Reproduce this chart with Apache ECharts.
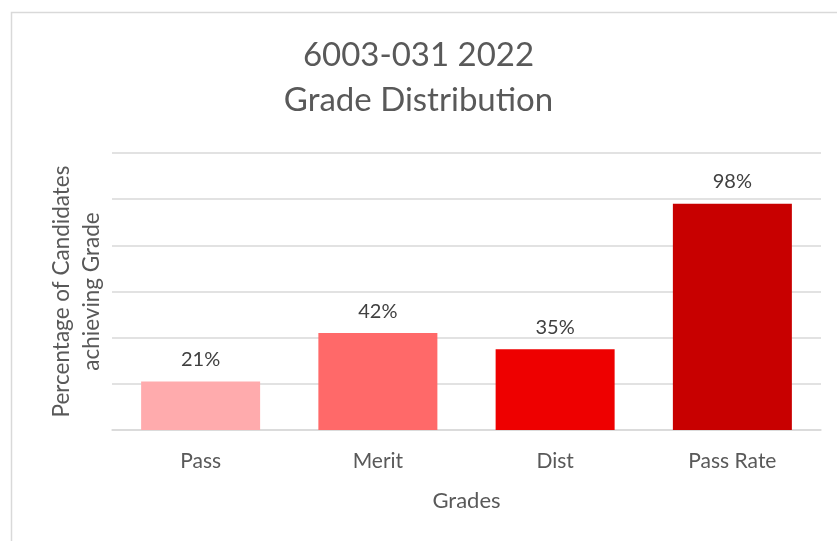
<!DOCTYPE html>
<html>
<head>
<meta charset="utf-8">
<script src="https://cdn.jsdelivr.net/npm/echarts@6/dist/echarts.min.js"></script>
<style>html,body{margin:0;padding:0;background:#fff}#c{width:837px;height:541px}</style>
</head>
<body>
<div id="c"></div>
<script>
const categories = ['Pass', 'Merit', 'Dist', 'Pass Rate'];
const values = [21, 42, 35, 98];
const barColors = ['#FFABAD', '#FF6969', '#EE0000', '#C80000'];
const yTicks = [0, 20, 40, 60, 80, 100, 120];

const FONT = 'Lato';
const chart = echarts.init(document.getElementById('c'));
chart.setOption({
  animation: false,
  backgroundColor: '#fff',
  graphic: [{
    type: 'rect', left: 9, top: 10,
    shape: { width: 900, height: 600 },
    style: { fill: 'none', stroke: '#d9d9d9', lineWidth: 1.5 }
  }],
  title: {
    text: '6003-031 2022\nGrade Distribution',
    left: 'center', top: 28,
    textStyle: { fontFamily: FONT, fontSize: 33, fontWeight: 'normal', color: '#595959', lineHeight: 45 }
  },
  grid: { left: 112, right: 16, top: 153, bottom: 111 },
  xAxis: {
    type: 'category', data: categories,
    name: 'Grades', nameLocation: 'middle', nameGap: 60,
    nameTextStyle: { fontFamily: FONT, fontSize: 22, color: '#595959' },
    axisLine: { lineStyle: { color: '#d9d9d9', width: 1.5 } },
    axisTick: { show: false },
    axisLabel: { fontFamily: FONT, fontSize: 21, color: '#595959', margin: 21 }
  },
  yAxis: {
    type: 'value', min: yTicks[0], max: yTicks[yTicks.length - 1], interval: 20,
    name: 'Percentage of Candidates\nachieving Grade', nameLocation: 'middle', nameGap: 5,
    nameTextStyle: { fontFamily: FONT, fontSize: 22.5, color: '#595959', lineHeight: 30 },
    axisLabel: { show: false }, axisLine: { show: false }, axisTick: { show: false },
    splitLine: { lineStyle: { color: '#d9d9d9', width: 1.5 } }
  },
  series: [{
    type: 'bar',
    data: values.map((v, i) => ({ value: v, itemStyle: { color: barColors[i] } })),
    barWidth: 119,
    label: {
      show: true, position: 'top', distance: 12,
      formatter: p => p.value + '%',
      fontFamily: FONT, fontSize: 20, color: '#404040'
    }
  }]
});
</script>
</body>
</html>
